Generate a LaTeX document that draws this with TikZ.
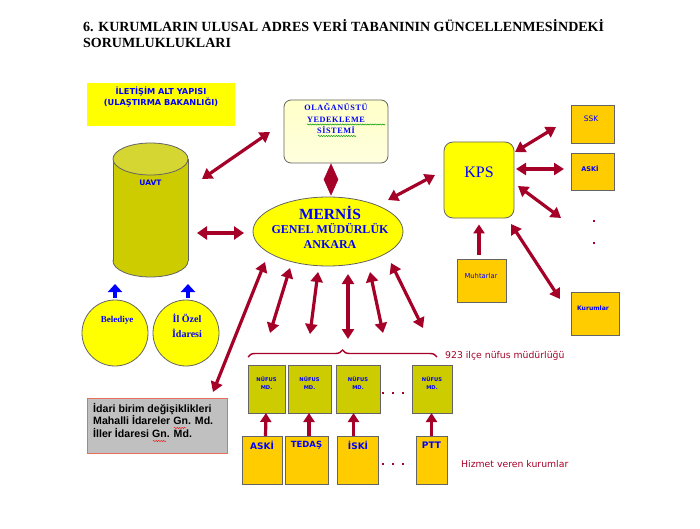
\documentclass[tikz,border=0pt]{standalone}
\usepackage{fontspec}
\setmainfont{Liberation Serif}
\newfontfamily\vsans{DejaVu Sans}
\newfontfamily\asans{Liberation Sans}
\newfontfamily\lserif{Liberation Serif}[LetterSpace=7]
\usetikzlibrary{arrows.meta,shapes.geometric,decorations.pathreplacing,decorations.pathmorphing}
\definecolor{arrred}{RGB}{165,0,40}
\definecolor{tblue}{RGB}{0,0,255}
\definecolor{ylw}{RGB}{255,255,0}
\definecolor{olv}{RGB}{204,204,0}
\definecolor{olvtop}{RGB}{214,214,50}
\definecolor{orng}{RGB}{255,204,0}
\definecolor{bord}{RGB}{100,100,100}
\definecolor{gry}{RGB}{192,192,192}
\definecolor{salm}{RGB}{232,110,90}
\definecolor{lyel}{RGB}{255,255,200}
\tikzset{
  dbl/.style={draw=arrred, line width=3.2pt, {Triangle[length=10pt,width=12pt]}-{Triangle[length=10pt,width=12pt]}},
  sgl/.style={draw=arrred, line width=3.2pt, -{Triangle[length=9pt,width=11pt]}},
  bluearr/.style={draw=tblue, line width=3.8pt, -{Triangle[length=8pt,width=14pt]}},
  orbox/.style={fill=orng, draw=bord, line width=0.8pt, inner sep=0, outer sep=0},
  olbox/.style={fill=olv, draw=bord, line width=0.8pt, inner sep=0, outer sep=0},
  btxt/.style={text=tblue, inner sep=0},
  dotm/.style={fill=arrred, minimum size=2.6pt, inner sep=0},
}
\begin{document}
\begin{tikzpicture}[x=1pt,y=-1pt]
\useasboundingbox[fill=white] (0,0) rectangle (700,529);

% title
\node[anchor=base west, inner sep=0, font=\bfseries\fontsize{14}{16}\selectfont] (t1) at (83,32) {6. KURUMLARIN ULUSAL ADRES VERİ TABANININ GÜNCELLENMESİNDEKİ};
\node[anchor=base west, inner sep=0, font=\bfseries\fontsize{14}{16}\selectfont] (t2) at (83,48) {SORUMLUKLUKLARI};

% iletisim box
\node[fill=ylw, minimum width=148, minimum height=43, inner sep=0] (ilet) at (161,104.5) {};
\node[btxt, align=center, anchor=north, font=\vsans\bfseries\fontsize{8.2}{11}\selectfont] (iletT) at (161,87) {İLETİŞİM ALT YAPISI\\(ULAŞTIRMA BAKANLIĞI)};

% cylinder UAVT
\fill[olv, draw=bord, line width=0.8pt] (150.5,261) ellipse [x radius=37.5, y radius=16];
\fill[olv] (113,159) rectangle (188,261);
\draw[bord, line width=0.8pt] (113,159) -- (113,261) (188,159) -- (188,261);
\fill[olvtop, draw=bord, line width=0.8pt] (150.5,159) ellipse [x radius=37.5, y radius=16];
\node[minimum width=75, minimum height=134, inner sep=0] (uavt) at (150.5,210) {};
\node[btxt, font=\vsans\bfseries\fontsize{7.5}{9}\selectfont] (uavtT) at (150.5,183) {UAVT};

% circles
\node[circle, fill=ylw, draw=bord, line width=0.8pt, minimum size=66, inner sep=0] (bel) at (115,333) {};
\node[btxt, font=\bfseries\fontsize{9}{11}\selectfont] (belT) at (117,320) {Belediye};
\node[circle, fill=ylw, draw=bord, line width=0.8pt, minimum size=66, inner sep=0] (ozel) at (186,333) {};
\node[btxt, align=center, font=\bfseries\fontsize{10}{15}\selectfont] (ozelT) at (187,326) {İl Özel\\İdaresi};
\coordinate (b1s) at (115,298); \coordinate (b1e) at (115,284);
\coordinate (b2s) at (188,298); \coordinate (b2e) at (188,284);
\draw[bluearr] (b1s) -- (b1e);
\draw[bluearr] (b2s) -- (b2e);

% olaganustu
\node[rounded corners=7, top color=lyel, bottom color=lyel!60!white, draw=bord, line width=0.8pt, minimum width=104, minimum height=63, inner sep=0] (olag) at (336,131.5) {};
\node[btxt, align=center, anchor=north, font=\lserif\bfseries\fontsize{8.2}{11.5}\selectfont] (olagT) at (336,103.5) {OLAĞANÜSTÜ\\YEDEKLEME\\SİSTEMİ};
\draw[green!60!black, line width=0.5pt, decorate, decoration={snake, amplitude=0.6pt, segment length=2.5pt}] (307,124.5) -- (385,124.5);
\draw[green!60!black, line width=0.5pt, decorate, decoration={snake, amplitude=0.6pt, segment length=2.5pt}] (318,136) -- (356,136);

% MERNIS
\node[ellipse, fill=ylw, draw=bord, line width=0.8pt, minimum width=150, minimum height=69, inner sep=0] (mernis) at (328,231.5) {};
\node[btxt, align=center, font=\bfseries\fontsize{12}{14.5}\selectfont] (mernisT) at (330,227) {{\fontsize{15.5}{17}\selectfont MERNİS}\\GENEL MÜDÜRLÜK\\ANKARA};

% KPS
\node[rounded corners=9, fill=ylw, draw=bord, line width=0.8pt, minimum width=70, minimum height=76, inner sep=0] (kps) at (479,180) {};
\node[btxt, font=\fontsize{16}{18}\selectfont] (kpsT) at (479,172) {KPS};

% right boxes
\node[orbox, minimum width=43, minimum height=38] (ssk) at (592.5,124) {};
\node[btxt, font=\vsans\fontsize{7.5}{9}\selectfont] (sskT) at (591,119) {SSK};
\node[orbox, minimum width=43, minimum height=37] (askir) at (592.5,171.5) {};
\node[btxt, font=\vsans\bfseries\fontsize{6.5}{8}\selectfont] (askirT) at (590,169) {ASKİ};
\node[dotm] (rd1) at (594,221) {};
\node[dotm] (rd2) at (594,243) {};
\node[orbox, minimum width=48, minimum height=43] (kur) at (595,313.5) {};
\node[btxt, font=\vsans\bfseries\fontsize{6.1}{8}\selectfont] (kurT) at (593,308) {Kurumlar};
\node[orbox, minimum width=49, minimum height=43] (muh) at (481.5,280.5) {};
\node[btxt, font=\vsans\fontsize{6.8}{8}\selectfont] (muhT) at (481,276) {Muhtarlar};

% nufus boxes
\node[olbox, minimum width=37, minimum height=48] (n1) at (266.5,389) {};
\node[olbox, minimum width=43, minimum height=48] (n2) at (309.5,389) {};
\node[olbox, minimum width=44, minimum height=48] (n3) at (358,389) {};
\node[olbox, minimum width=40, minimum height=48] (n4) at (432,389) {};
\foreach \n in {n1,n2,n3,n4}{
  \node[btxt, align=center, font=\vsans\bfseries\fontsize{5.2}{8}\selectfont] at ([yshift=6]\n.center) {NÜFUS\\MD.};
}
\node[dotm] (d1) at (383,393) {};
\node[dotm] (d2) at (393,393) {};
\node[dotm] (d3) at (403,393) {};

% service boxes
\node[orbox, minimum width=40, minimum height=48] (s1) at (262,460) {};
\node[orbox, minimum width=43, minimum height=48] (s2) at (306.5,460) {};
\node[orbox, minimum width=41, minimum height=48] (s3) at (358,460) {};
\node[orbox, minimum width=31, minimum height=48] (s4) at (431.5,460) {};
\node[btxt, font=\vsans\bfseries\fontsize{9}{10}\selectfont] (s1T) at (262,445) {ASKİ};
\node[btxt, font=\vsans\bfseries\fontsize{8.5}{10}\selectfont] (s2T) at (306.5,445) {TEDAŞ};
\node[btxt, font=\vsans\bfseries\fontsize{9}{10}\selectfont] (s3T) at (358,445) {İSKİ};
\node[btxt, font=\vsans\bfseries\fontsize{9}{10}\selectfont] (s4T) at (431.5,445) {PTT};
\node[dotm] (e1) at (383,464) {};
\node[dotm] (e2) at (393,464) {};
\node[dotm] (e3) at (403,464) {};

\draw[sgl] ([xshift=3.5]s1.north) -- ([xshift=-0.5]n1.south);
\draw[sgl] ([xshift=2.5]s2.north) -- ([xshift=-0.5]n2.south);
\draw[sgl] ([xshift=-4.5]s3.north) -- ([xshift=-4.5]n3.south);
\draw[sgl] (s4.north) -- ([xshift=-0.5]n4.south);

% brace and labels
\coordinate (brL) at (248,357);
\coordinate (brR) at (437,357);
\draw[arrred, line width=1.4pt, decorate, decoration={brace, amplitude=7pt}] (brL) -- (brR);
\node[anchor=base west, inner sep=0, text=arrred, font=\vsans\fontsize{9.3}{11}\selectfont] (l923) at (445,358) {923 ilçe nüfus müdürlüğü};
\node[anchor=base west, inner sep=0, text=arrred, font=\vsans\fontsize{9.3}{11}\selectfont] (lhiz) at (461,467) {Hizmet veren kurumlar};

% idari box
\node[fill=gry, draw=salm, line width=1pt, minimum width=140, minimum height=55, inner sep=0] (idari) at (157,425.5) {};
\node[anchor=north west, align=left, inner sep=0, font=\asans\bfseries\fontsize{10.6}{12.6}\selectfont] (idariT) at (93,403) {İdari birim değişiklikleri\\Mahalli İdareler Gn. Md.\\İller İdaresi Gn. Md.};
\draw[red, line width=0.45pt, decorate, decoration={snake, amplitude=0.6pt, segment length=2.5pt}] (174,428) -- (186,428);
\draw[red, line width=0.45pt, decorate, decoration={snake, amplitude=0.6pt, segment length=2.5pt}] (153,441) -- (166,441);

% arrow end coordinates
\coordinate (a1s) at (202,179); \coordinate (a1e) at (270,132);
\coordinate (a2s) at (197,233); \coordinate (a2e) at (244,233);
\coordinate (a3s) at (331,164); \coordinate (a3e) at (331,195);
\coordinate (a4s) at (388,200); \coordinate (a4e) at (435,175);
\coordinate (a5s) at (515,152); \coordinate (a5e) at (556,127);
\coordinate (a6s) at (516,169); \coordinate (a6e) at (564,169);
\coordinate (a7s) at (518,186); \coordinate (a7e) at (561,218);
\coordinate (a8s) at (511,224); \coordinate (a8e) at (560,299);
\coordinate (a10s) at (265,262); \coordinate (a10e) at (213,392);
\coordinate (m1s) at (290,268); \coordinate (m1e) at (270,333);
\coordinate (m2s) at (318,272); \coordinate (m2e) at (310,334);
\coordinate (m3s) at (348,274); \coordinate (m3e) at (348,339);
\coordinate (m4s) at (370,272); \coordinate (m4e) at (383,333);
\coordinate (m5s) at (391,263); \coordinate (m5e) at (423,328);

\draw[dbl] (a1s) -- (a1e);
\draw[dbl, line width=3.8pt, {Triangle[length=10pt,width=13pt]}-{Triangle[length=10pt,width=13pt]}] (a2s) -- (a2e);
\draw[draw=arrred, line width=0.5pt, fill=arrred] (a3s) -- ++(7,15.5) -- (a3e) -- ++(-7,-15.5) -- cycle;
\draw[dbl] (a4s) -- (a4e);
\draw[dbl] (a5s) -- (a5e);
\draw[dbl] (a6s) -- (a6e);
\draw[dbl] (a7s) -- (a7e);
\draw[dbl] (a8s) -- (a8e);
\draw[sgl] ([yshift=4]muh.north -| kps.south) -- ([yshift=-6]kps.south);
\draw[dbl] (a10s) -- (a10e);
\draw[dbl] (m1s) -- (m1e);
\draw[dbl] (m2s) -- (m2e);
\draw[dbl] (m3s) -- (m3e);
\draw[dbl] (m4s) -- (m4e);
\draw[dbl] (m5s) -- (m5e);
\end{tikzpicture}
\end{document}
